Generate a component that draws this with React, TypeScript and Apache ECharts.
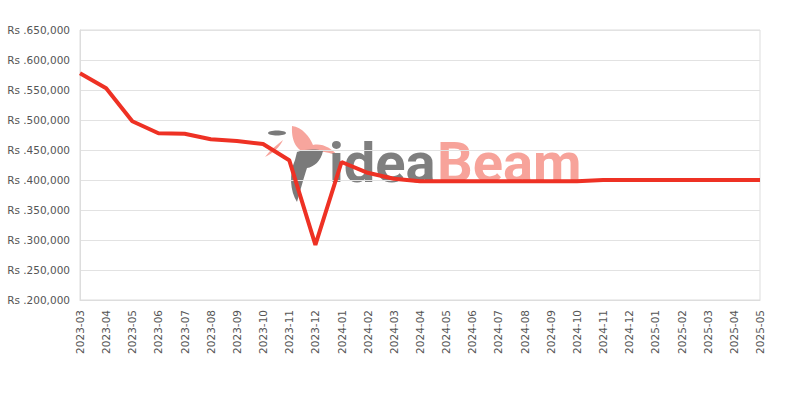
import React, { useEffect, useRef } from "react";
import * as echarts from "echarts";

const categories = [
  "2023-03", "2023-04", "2023-05", "2023-06", "2023-07", "2023-08", "2023-09",
  "2023-10", "2023-11", "2023-12", "2024-01", "2024-02", "2024-03", "2024-04",
  "2024-05", "2024-06", "2024-07", "2024-08", "2024-09", "2024-10", "2024-11",
  "2024-12", "2025-01", "2025-02", "2025-03", "2025-04", "2025-05",
];

const prices = [
  578000, 553000, 498000, 478000, 477000, 468000, 465000,
  460000, 433000, 292000, 430000, 412000, 402000, 398000,
  398000, 398000, 398000, 398000, 398000, 398000, 400000,
  400000, 400000, 400000, 400000, 400000, 400000,
];

const yMin = 200000;
const yMax = 650000;
const yInterval = 50000;

const birdPath =
  "M292,126 C302,127 310,137 313,145 C322,143 332,148 339,157 C329,151 318,151 310,153 C299,153 291,144 292,126 Z";
const bodyPath =
  "M297,152 C306,149 317,149 323,151 C321,161 314,167 307,168 C304,177 301,188 297,202 C290,191 289,174 295,160 Z";
const streakPath = "M265,157 C270,150 277,145 283,140 C280,147 273,153 265,157 Z";

echarts.graphic.registerShape("ibBird", echarts.graphic.extendPath(birdPath, {}));
echarts.graphic.registerShape("ibBody", echarts.graphic.extendPath(bodyPath, {}));
echarts.graphic.registerShape("ibStreak", echarts.graphic.extendPath(streakPath, {}));

function formatRs(v: number): string {
  return "Rs ." + v.toLocaleString("en-US");
}

export default function App() {
  const ref = useRef<HTMLDivElement>(null);
  useEffect(() => {
    if (!ref.current) return;
    const chart = echarts.init(ref.current, undefined, { renderer: "svg" });
    chart.setOption({
      animation: false,
      backgroundColor: "#ffffff",
      grid: { left: 80, right: 40, top: 30, bottom: 100, show: true, borderColor: "#dddddd", borderWidth: 1 },
      graphic: [
        { type: "ibBird", x: 0, y: 0, z: 0, style: { fill: "#f7a59d" } },
        { type: "ibBody", x: 0, y: 0, z: 0, style: { fill: "#7a7a7a" } },
        { type: "ibStreak", x: 0, y: 0, z: 0, style: { fill: "#f7a59d" } },
        { type: "ellipse", z: 0, shape: { cx: 277, cy: 133, rx: 9, ry: 2.5 }, style: { fill: "#7a7a7a" } },
        {
          type: "text", left: 329, top: 135, z: 0,
          style: { text: "idea", fill: "#7f7f7f", font: "bold 56px Roboto" },
        },
        {
          type: "text", left: 437, top: 135, z: 0,
          style: { text: "Beam", fill: "#f7a39a", font: "bold 56px Roboto" },
        },
      ],
      xAxis: {
        type: "category",
        data: categories,
        boundaryGap: false,
        axisLine: { lineStyle: { color: "#dddddd" } },
        axisTick: { show: false },
        axisLabel: { rotate: 90, color: "#555555", fontSize: 10.5, fontFamily: "DejaVu Sans", interval: 0, margin: 10 },
        splitLine: { show: false },
      },
      yAxis: {
        type: "value",
        min: yMin,
        max: yMax,
        interval: yInterval,
        axisLine: { show: true, lineStyle: { color: "#dddddd" } },
        axisTick: { show: false },
        axisLabel: { color: "#555555", fontSize: 10.5, fontFamily: "DejaVu Sans", margin: 10, formatter: (v: number) => formatRs(v) },
        splitLine: { lineStyle: { color: "#e2e2e2" } },
      },
      series: [
        {
          type: "line",
          data: prices,
          showSymbol: false,
          z: 5,
          lineStyle: { color: "#ee3124", width: 4 },
          itemStyle: { color: "#ee3124" },
        },
      ],
    });
    return () => chart.dispose();
  }, []);
  return <div ref={ref} style={{ width: 800, height: 400, position: "absolute", left: 0, top: 0 }} />;
}
